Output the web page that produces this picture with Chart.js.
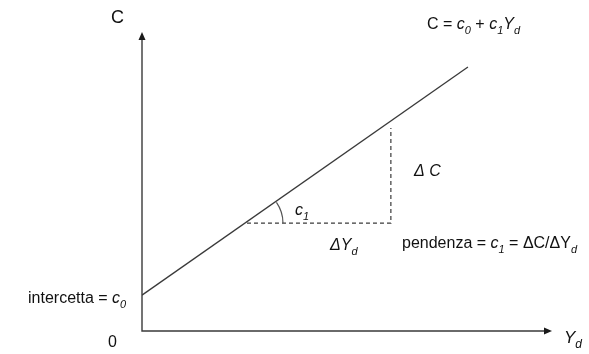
<!DOCTYPE html>
<html>
<head>
<meta charset="utf-8">
<script src="https://cdn.jsdelivr.net/npm/chart.js@4.4.1/dist/chart.umd.min.js"></script>
<style>
  body { margin: 0; background: #fff; }
  #wrap { width: 589px; height: 354px; position: relative; }
</style>
</head>
<body>
<div id="wrap"><canvas id="consChart"></canvas></div>
<script>
// consumption function C = c0 + c1*Yd (arbitrary units, axes 0..10)
const lineX = [0, 7.95];
const lineY = [1.2, 8.83];

// slope triangle (dashed): horizontal leg then vertical leg
const stepX = [2.56, 6.07, 6.07];
const stepY = [3.61, 3.61, 6.79];

const FONT = "Liberation Sans, Arial, sans-serif";

// draw text made of pieces: [text, italic, subscript]
function richText(ctx, parts, x, y, size) {
    let cx = x;
    parts.forEach(p => {
        let s = p[2] ? Math.round(size * 0.68) : size;
        ctx.font = (p[1] ? "italic " : "") + s + "px " + FONT;
        ctx.fillText(p[0], cx, p[2] ? y + 5 : y);
        cx += ctx.measureText(p[0]).width;
    });
}

const diagram = {
    id: "diagram",
    afterDraw(chart) {
        const ctx = chart.ctx;
        const a = chart.chartArea;
        const xs = chart.scales.x, ys = chart.scales.y;
        ctx.save();

        // axes with arrows
        ctx.strokeStyle = "#3a3a3a";
        ctx.fillStyle = "#1a1a1a";
        ctx.lineWidth = 1.4;
        ctx.beginPath();
        ctx.moveTo(a.left, a.top + 6);
        ctx.lineTo(a.left, a.bottom);
        ctx.lineTo(a.right - 6, a.bottom);
        ctx.stroke();
        ctx.beginPath();
        ctx.moveTo(a.left, a.top);
        ctx.lineTo(a.left - 3.5, a.top + 8);
        ctx.lineTo(a.left + 3.5, a.top + 8);
        ctx.closePath();
        ctx.fill();
        ctx.beginPath();
        ctx.moveTo(a.right, a.bottom);
        ctx.lineTo(a.right - 8, a.bottom - 3.5);
        ctx.lineTo(a.right - 8, a.bottom + 3.5);
        ctx.closePath();
        ctx.fill();

        // angle arc c1
        const cx = xs.getPixelForValue(stepX[0]);
        const cy = ys.getPixelForValue(stepY[0]);
        const ang = Math.atan2(
            ys.getPixelForValue(lineY[1]) - ys.getPixelForValue(lineY[0]),
            xs.getPixelForValue(lineX[1]) - xs.getPixelForValue(lineX[0]));
        ctx.strokeStyle = "#555";
        ctx.lineWidth = 1.2;
        ctx.beginPath();
        ctx.arc(cx, cy, 36, ang, 0);
        ctx.stroke();

        // labels
        ctx.fillStyle = "#111";
        ctx.textBaseline = "alphabetic";
        richText(ctx, [["C", false, false]], 111, 23, 18);
        richText(ctx, [["C = ", false, false], ["c", true, false], ["0", true, true],
            [" + ", false, false], ["c", true, false], ["1", true, true],
            ["Y", true, false], ["d", true, true]], 427, 29, 16);
        richText(ctx, [["Δ C", true, false]], 414, 176, 16);
        richText(ctx, [["c", true, false], ["1", true, true]], 295, 215, 16);
        richText(ctx, [["ΔY", true, false], ["d", true, true]], 330, 250, 16);
        richText(ctx, [["pendenza = ", false, false], ["c", true, false], ["1", true, true],
            [" = ΔC/ΔY", false, false], ["d", true, true]], 402, 248, 16);
        richText(ctx, [["intercetta = ", false, false], ["c", true, false], ["0", true, true]], 28, 303, 16);
        richText(ctx, [["0", false, false]], 108, 347, 16);
        richText(ctx, [["Y", true, false], ["d", true, true]], 564, 343, 17);

        ctx.restore();
    }
};

new Chart(document.getElementById("consChart"), {
    type: "scatter",
    data: {
        datasets: [{
            data: lineX.map((x, i) => ({ x: x, y: lineY[i] })),
            showLine: true,
            borderColor: "#3a3a3a",
            borderWidth: 1.3,
            pointRadius: 0
        }, {
            data: stepX.map((x, i) => ({ x: x, y: stepY[i] })),
            showLine: true,
            borderColor: "#3a3a3a",
            borderWidth: 1.2,
            borderDash: [4, 3],
            pointRadius: 0
        }]
    },
    options: {
        responsive: true,
        maintainAspectRatio: false,
        animation: false,
        layout: { padding: { left: 142, right: 37, top: 32, bottom: 23 } },
        plugins: {
            legend: { display: false },
            tooltip: { enabled: false }
        },
        scales: {
            x: { display: false, min: 0, max: 10 },
            y: { display: false, min: 0, max: 10 }
        }
    },
    plugins: [diagram]
});
</script>
</body>
</html>
